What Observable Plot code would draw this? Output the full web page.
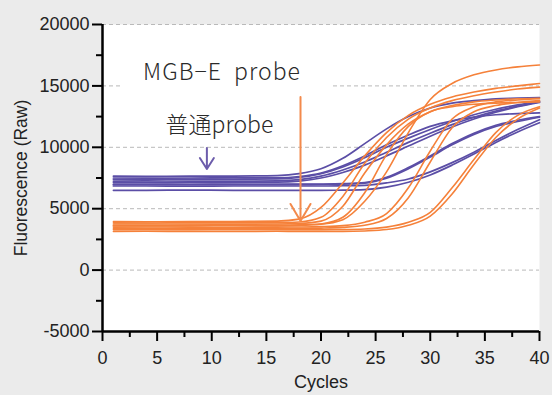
<!DOCTYPE html>
<html>
<head>
<meta charset="utf-8">
<script src="https://cdn.jsdelivr.net/npm/d3@7"></script>
<script src="https://cdn.jsdelivr.net/npm/@observablehq/plot@0.6"></script>
<style>
  html, body { margin: 0; padding: 0; background: #ebebeb; }
  #chart svg { display: block; }
</style>
</head>
<body>
<div id="chart"></div>
<script>
// ---- data ----
const cycles = [1, 4, 8, 12, 16, 18, 20, 22, 24, 26, 28, 30, 32, 34, 36, 38, 40];

// 普通probe (purple) raw fluorescence curves
const normalProbeCurves = [
  [7650, 7640, 7650, 7660, 7700, 7850, 8250, 9100, 10300, 11500, 12500, 13200, 13600, 13800, 13950, 14000, 14050],
  [7500, 7490, 7500, 7510, 7520, 7620, 7900, 8500, 9300, 10200, 11000, 11700, 12150, 12450, 12650, 12750, 12800],
  [7400, 7400, 7410, 7400, 7430, 7540, 7850, 8400, 9150, 10000, 10750, 11450, 12100, 12650, 13100, 13450, 13750],
  [7250, 7260, 7250, 7240, 7270, 7370, 7650, 8150, 8800, 9600, 10400, 11150, 11850, 12450, 12950, 13350, 13700],
  [7150, 7150, 7140, 7150, 7160, 7250, 7500, 7950, 8550, 9300, 10100, 10900, 11650, 12300, 12850, 13300, 13650],
  [7000, 7000, 6990, 7000, 7000, 7000, 7010, 7040, 7120, 7550, 8350, 9300, 10300, 11150, 11800, 12200, 12500],
  [6950, 6950, 6960, 6950, 6950, 6960, 6970, 7000, 7080, 7480, 8250, 9200, 10200, 11050, 11700, 12100, 12450],
  [6850, 6850, 6840, 6850, 6850, 6850, 6850, 6870, 6900, 7100, 7420, 8000, 8750, 9600, 10550, 11450, 12250],
  [6500, 6500, 6510, 6500, 6490, 6500, 6500, 6510, 6550, 6750, 7150, 7750, 8550, 9450, 10400, 11250, 12000]
];

// MGB-E probe (orange) raw fluorescence curves
const mgbProbeCurves = [
  [3950, 3930, 3950, 3960, 3990, 4150, 5100, 7100, 9300, 11200, 12600, 13500, 14100, 14500, 14800, 15000, 15200],
  [3850, 3840, 3860, 3850, 3870, 3920, 4300, 6000, 8700, 10800, 12300, 13200, 13800, 14200, 14500, 14750, 14900],
  [3750, 3760, 3750, 3740, 3750, 3790, 3990, 5200, 7900, 10200, 11900, 12900, 13400, 13700, 13850, 13950, 14000],
  [3650, 3650, 3660, 3650, 3660, 3680, 3740, 4100, 5600, 8000, 11200, 13900, 15200, 15900, 16300, 16550, 16700],
  [3600, 3590, 3600, 3610, 3600, 3630, 3750, 4300, 6300, 9400, 11700, 12900, 13300, 13500, 13600, 13650, 13700],
  [3500, 3510, 3500, 3490, 3500, 3510, 3540, 3620, 3900, 4600, 6700, 9700, 12300, 13300, 13700, 13850, 13950],
  [3400, 3400, 3410, 3400, 3390, 3400, 3420, 3480, 3650, 4200, 5900, 8800, 11600, 12900, 13400, 13650, 13800],
  [3300, 3290, 3300, 3310, 3300, 3300, 3300, 3310, 3350, 3500, 3900, 4700, 6700, 9000, 11200, 12600, 13300],
  [3150, 3160, 3150, 3150, 3160, 3150, 3150, 3150, 3190, 3300, 3650, 4400, 6200, 8600, 10800, 12300, 13200]
];

const xMajorTicks = [0, 5, 10, 15, 20, 25, 30, 35, 40];
const xMinorTicks = [2.5, 7.5, 12.5, 17.5, 22.5, 27.5, 32.5, 37.5];
const yMajorTicks = [-5000, 0, 5000, 10000, 15000, 20000];
const yMinorTicks = [-2500, 2500, 7500, 12500, 17500];
const gridValues = [0, 5000, 10000, 15000, 20000];

const xTitle = "Cycles";
const yTitle = "Fluorescence (Raw)";

// annotations (data coordinates)
const annotationLabels = [
  {text: "MGB\u2212E  probe", x: 10.94, y: 16100, spacing: 1},
  {text: "普通probe", x: 10.7, y: 11800, spacing: 0}
];
const annotationBox = [{x1: 1.8, x2: 21.0, y1: 14150, y2: 18600}];
const annotationArrows = [
  {probe: "mgb", x: 18.17, y1: 14050, y2: 3960},
  {probe: "normal", x: 9.6, y1: 9900, y2: 8190}
];

// ---- styles ----
const colors = {normal: "#5b4ea6", mgb: "#f5813a"};
const arrowColors = {normal: "#6c5cab", mgb: "#f38a4c"};
const arrowHead = {normal: {w: 7, h: 11}, mgb: {w: 10, h: 17}};

// ---- build table ----
const rows = [];
normalProbeCurves.forEach((vals, k) => vals.forEach((v, i) => rows.push({cycle: cycles[i], value: v, probe: "normal", id: "n" + k})));
mgbProbeCurves.forEach((vals, k) => vals.forEach((v, i) => rows.push({cycle: cycles[i], value: v, probe: "mgb", id: "m" + k})));

function arrowsMark(index, scales) {
  const g = d3.create("svg:g").attr("fill", "none").attr("stroke-linecap", "round").attr("stroke-linejoin", "round");
  for (const a of annotationArrows) {
    const x = scales.x(a.x), y1 = scales.y(a.y1), y2 = scales.y(a.y2);
    const {w, h} = arrowHead[a.probe];
    g.append("path")
      .attr("d", `M${x},${y1}L${x},${y2}M${x - w},${y2 - h}L${x},${y2}L${x + w},${y2 - h}`)
      .attr("stroke", arrowColors[a.probe])
      .attr("stroke-width", 2);
  }
  return g.node();
}

const fontAxis = "'Liberation Sans', Arial, sans-serif";

const chart = Plot.plot({
  width: 552,
  height: 395,
  marginLeft: 102,
  marginRight: 13,
  marginTop: 24,
  marginBottom: 64,
  style: {background: "#ebebeb", fontFamily: fontAxis, color: "#222", overflow: "visible"},
  x: {domain: [0, 40], label: null},
  y: {domain: [-5000, 20000], label: null},
  marks: [
    Plot.frame({fill: "white", stroke: "none"}),
    Plot.gridY(gridValues, {stroke: "#b9b9b9", strokeOpacity: 1, strokeWidth: 1, strokeDasharray: "4,3"}),
    Plot.rect(annotationBox, {x1: "x1", x2: "x2", y1: "y1", y2: "y2", fill: "white"}),
    Plot.line(rows.filter(d => d.probe === "normal"), {x: "cycle", y: "value", z: "id", stroke: colors.normal, strokeWidth: 1.7, curve: "monotone-x"}),
    Plot.line(rows.filter(d => d.probe === "mgb"), {x: "cycle", y: "value", z: "id", stroke: colors.mgb, strokeWidth: 1.6, curve: "monotone-x"}),
    Plot.ruleX([0], {stroke: "black", strokeWidth: 2.5}),
    Plot.ruleY([-5000], {stroke: "black", strokeWidth: 2.5}),
    Plot.axisY({ticks: yMajorTicks, tickSize: 10, tickPadding: 3, fontSize: 18, tickFormat: d => String(d), stroke: "black", strokeWidth: 2, label: null}),
    Plot.axisY({ticks: yMinorTicks, tickSize: 6, tickFormat: () => "", stroke: "black", strokeWidth: 2, label: null}),
    Plot.axisX({ticks: xMajorTicks, tickSize: 10, tickPadding: 10, fontSize: 18, tickFormat: d => String(d), stroke: "black", strokeWidth: 2, label: null}),
    Plot.axisX({ticks: xMinorTicks, tickSize: 6, tickFormat: () => "", stroke: "black", strokeWidth: 2, label: null}),
    Plot.text([xTitle], {frameAnchor: "bottom", text: d => d, dy: 56, fontSize: 18, fill: "#222"}),
    Plot.text([yTitle], {frameAnchor: "left", textAnchor: "middle", text: d => d, rotate: -90, dx: -81, fontSize: 17.5, fill: "#222"}),
    arrowsMark,
    Plot.text(annotationLabels, {x: "x", y: "y", text: "text", fontSize: 23, fontFamily: "'Noto Sans CJK JP', sans-serif", fontWeight: 300, fill: "#2a2a2a"})
  ]
});
// letter spacing for the annotation labels
d3.select(chart).selectAll("text").each(function() {
  const lab = annotationLabels.find(l => l.text === this.textContent);
  if (lab && lab.spacing) this.style.letterSpacing = lab.spacing + "px";
});
document.getElementById("chart").appendChild(chart);
</script>
</body>
</html>
